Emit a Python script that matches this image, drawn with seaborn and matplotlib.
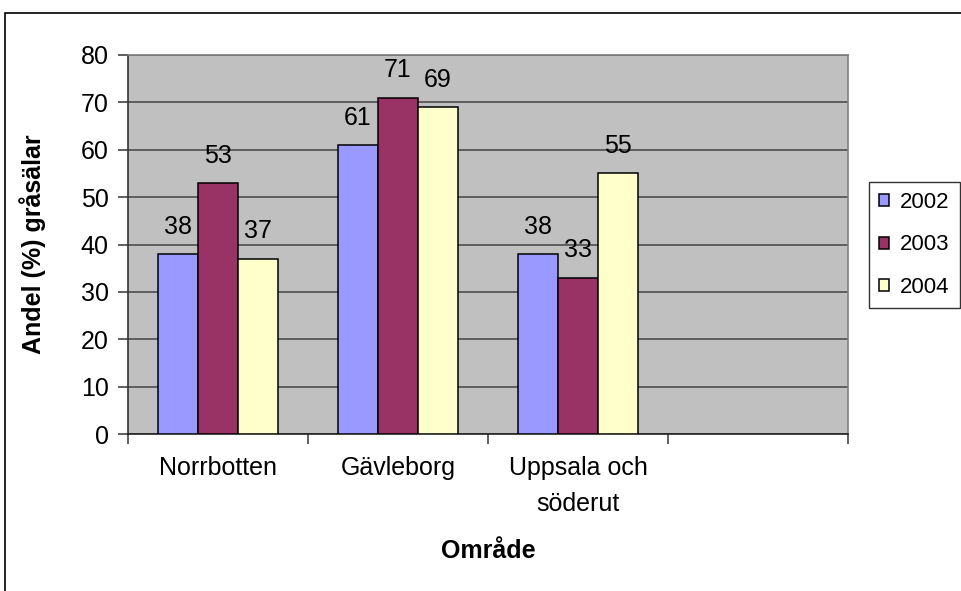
import matplotlib
matplotlib.use("Agg")
import matplotlib.pyplot as plt
import pandas as pd
import seaborn as sns
from matplotlib.patches import Rectangle

# data
omraden = ["Norrbotten", "Gävleborg", "Uppsala och\nsöderut"]
ar = ["2002", "2003", "2004"]
andel_2002 = [38, 61, 38]
andel_2003 = [53, 71, 33]
andel_2004 = [37, 69, 55]
farger = ["#9999FF", "#993366", "#FFFFCC"]
yticks = [0, 10, 20, 30, 40, 50, 60, 70, 80]

rows = []
for year, vals in zip(ar, [andel_2002, andel_2003, andel_2004]):
    for omr, v in zip(omraden, vals):
        rows.append({"Område": omr, "År": year, "Andel": v})
df = pd.DataFrame(rows)

sns.set_style("white")
plt.rcParams["font.family"] = ["Liberation Sans", "DejaVu Sans"]
plt.rcParams["text.color"] = "black"
plt.rcParams["axes.labelcolor"] = "black"
plt.rcParams["xtick.color"] = "black"
plt.rcParams["ytick.color"] = "black"

fig = plt.figure(figsize=(9.62, 5.91), dpi=100)
ax = fig.add_axes([128 / 962, 1 - 434 / 591, 720 / 962, 379 / 591])
ax.set_facecolor("#C0C0C0")

order = omraden + [""]
sns.barplot(data=df, x="Område", y="Andel", hue="År", order=order, hue_order=ar,
            palette=farger, saturation=1, width=2 / 3, edgecolor="black",
            linewidth=1.1, ax=ax, zorder=3)

for cont in ax.containers:
    ax.bar_label(cont, fmt="%d", padding=11, fontsize=18, color="black", zorder=4)

ax.set_xlim(-0.5, 3.5)
ax.set_ylim(0, 80)
ax.set_yticks(yticks)
ax.yaxis.grid(True, color="#4d4d4d", linewidth=1.2, zorder=0)
ax.set_axisbelow(True)

# category ticks at the slot edges, labels in the middle
ax.set_xticks([-0.5, 0.5, 1.5, 2.5, 3.5])
ax.set_xticklabels([])
ax.set_xticks(range(len(order)), minor=True)
ax.set_xticklabels(order, minor=True, fontsize=18, linespacing=1.6)
ax.tick_params(axis="x", which="major", direction="out", length=7, width=1.1,
               color="#333333", bottom=True)
ax.tick_params(axis="x", which="minor", length=0, pad=16)
ax.tick_params(axis="y", direction="out", length=7, width=1.1, color="#333333",
               left=True, labelsize=18, pad=7)

for side in ["top", "right"]:
    ax.spines[side].set_color("#808080")
    ax.spines[side].set_linewidth(1.2)
ax.spines["left"].set_color("#333333")
ax.spines["bottom"].set_color("#222222")
for side in ["left", "bottom"]:
    ax.spines[side].set_linewidth(1.2)

ax.set_xlabel("Område", fontsize=18, fontweight="bold")
ax.set_ylabel("Andel (%) gråsälar", fontsize=18, fontweight="bold")
ax.xaxis.set_label_coords(0.5, (434 - 551) / 379)
ax.xaxis.label.set_va("center")
ax.yaxis.set_label_coords((33 - 128) / 720, 0.5)
ax.yaxis.label.set_va("center")

handles, labels = ax.get_legend_handles_labels()
ax.legend_.remove()
leg = fig.legend(handles, labels, loc="center left",
                 bbox_to_anchor=(869 / 962, 1 - 245 / 591),
                 fontsize=16, frameon=True, fancybox=False, edgecolor="black",
                 handlelength=0.45, handleheight=0.45, handletextpad=0.5,
                 labelspacing=0.95, borderpad=0.45, borderaxespad=0)
leg.get_frame().set_linewidth(1.0)

# outer chart frame, partly cut off at right and bottom like the original
fig.add_artist(Rectangle((5 / 962, -0.1), 1.2, (591 - 13) / 591 + 0.1,
                         transform=fig.transFigure, fill=False,
                         edgecolor="black", linewidth=1.2, clip_on=False))

fig.savefig("out.png", dpi=100)
